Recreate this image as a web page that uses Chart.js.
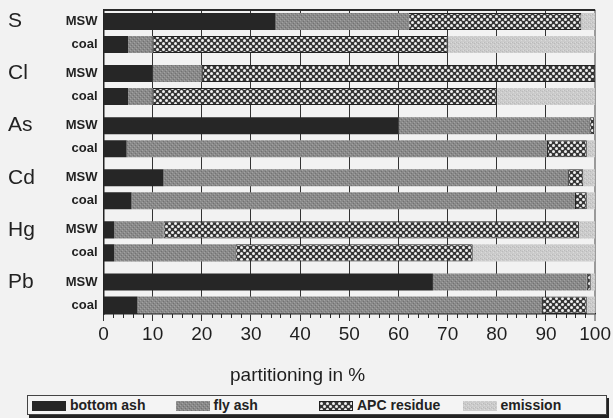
<!DOCTYPE html>
<html>
<head>
<meta charset="utf-8">
<script src="https://cdn.jsdelivr.net/npm/chart.js@4/dist/chart.umd.min.js"></script>
<style>
  body { margin: 0; background: #f2f2f2; }
  #wrap { position: relative; width: 613px; height: 418px; }
  #chart { position: absolute; left: 0; top: 0; }
  .xtitle { position: absolute; left: 230px; top: 364px; font: 19px "Liberation Sans", Arial, sans-serif; color: #1e1e1e; white-space: nowrap; }
  .legend { position: absolute; left: 27px; top: 395px; width: 578px; height: 18px;
            border: 1px solid #444; box-shadow: 2px 3px 0 #222; background: #f4f4f4;
            font: bold 14px "Liberation Sans", Arial, sans-serif; color: #222; }
  .legend .item { position: absolute; top: 0; height: 18px; line-height: 18px; white-space: nowrap; }
  .legend .box { display: inline-block; width: 34px; height: 10px; vertical-align: -1px; margin-right: 4px; }
</style>
</head>
<body>
<div id="wrap">
  <canvas id="chart" width="613" height="395"></canvas>
  <div class="xtitle" id="xtitle"></div>
  <div class="legend" id="legend"></div>
</div>
<script>
const elements = ['S', 'Cl', 'As', 'Cd', 'Hg', 'Pb'];
const fuels = ['MSW', 'coal'];
const series = ['bottom ash', 'fly ash', 'APC residue', 'emission'];
const xTicks = [0, 10, 20, 30, 40, 50, 60, 70, 80, 90, 100];
const xTitle = 'partitioning in %';

// partitioning in %, one entry per element
const msw_bottom   = [35, 10, 60, 12.2, 2.2, 67];
const msw_fly      = [27, 10, 38.8, 82.3, 10, 31.3];
const msw_apc      = [35.2, 80, 1, 3.1, 84.5, 0.8];
const msw_emission = [2.8, 0, 0.2, 2.4, 3.3, 0.9];
const coal_bottom   = [5, 5, 4.7, 5.7, 2.2, 6.9];
const coal_fly      = [5, 5, 85.5, 90.2, 24.6, 82.3];
const coal_apc      = [60, 70, 8.1, 2.4, 48.3, 9.1];
const coal_emission = [30, 20, 1.7, 1.7, 24.9, 1.7];

const values = {
  MSW: [msw_bottom, msw_fly, msw_apc, msw_emission],
  coal: [coal_bottom, coal_fly, coal_apc, coal_emission]
};

function tile(size, draw) {
  const c = document.createElement('canvas');
  c.width = size; c.height = size;
  draw(c.getContext('2d'));
  return c;
}
const tiles = [
  tile(4, g => { g.fillStyle = '#262626'; g.fillRect(0, 0, 4, 4); }),
  tile(4, g => {
    g.fillStyle = '#8a8a8a'; g.fillRect(0, 0, 4, 4);
    g.fillStyle = '#a2a2a2'; g.fillRect(0, 0, 1, 1); g.fillRect(2, 2, 1, 1);
    g.fillStyle = '#727272'; g.fillRect(1, 3, 1, 1); g.fillRect(3, 1, 1, 1);
  }),
  tile(6, g => {
    g.fillStyle = '#363636'; g.fillRect(0, 0, 6, 6);
    g.fillStyle = '#f0f0f0';
    g.beginPath(); g.arc(1.5, 1.5, 1.5, 0, Math.PI * 2); g.fill();
    g.beginPath(); g.arc(4.5, 4.5, 1.5, 0, Math.PI * 2); g.fill();
  }),
  tile(4, g => {
    g.fillStyle = '#cbcbcb'; g.fillRect(0, 0, 4, 4);
    g.fillStyle = '#dadada'; g.fillRect(1, 0, 1, 1); g.fillRect(3, 2, 1, 1);
    g.fillStyle = '#bababa'; g.fillRect(0, 2, 1, 1); g.fillRect(2, 3, 1, 1);
  })
];
const ctx = document.getElementById('chart').getContext('2d');
const fills = tiles.map(t => ctx.createPattern(t, 'repeat'));

const datasets = [];
fuels.forEach(fuel => {
  series.forEach((name, j) => {
    datasets.push({
      label: name,
      stack: fuel,
      data: values[fuel][j].map((v, i) => ({ x: v, y: i })),
      backgroundColor: fills[j],
      borderColor: '#222',
      borderWidth: j == 2 ? 1 : 0,
      borderSkipped: false,
      categoryPercentage: 0.883,
      barPercentage: 0.74
    });
  });
});

const font = '"Liberation Sans", Arial, sans-serif';
const yMin = -0.441, yMax = 5.394;

// no extra room for the first/last tick label, the plot box is fixed
function fitY(width) {
  return s => { s.width = width; s.paddingTop = 0; s.paddingBottom = 0; };
}

const framePlugin = {
  id: 'frame',
  afterDraw(chart) {
    const a = chart.chartArea, c = chart.ctx, x = chart.scales.x;
    c.save();
    c.strokeStyle = '#2a2a2a';
    c.lineWidth = 2;
    c.beginPath(); c.moveTo(a.left, a.top); c.lineTo(a.right, a.top); c.stroke();
    // minor ticks every 2 %
    c.lineWidth = 1;
    c.beginPath();
    for (let v = 2; v < 100; v += 2) {
      if (v % 10 == 0) continue;
      const px = Math.round(x.getPixelForValue(v)) + 0.5;
      c.moveTo(px, a.bottom); c.lineTo(px, a.bottom + 4);
    }
    c.stroke();
    c.restore();
  }
};

new Chart(ctx, {
  type: 'bar',
  data: { datasets: datasets },
  options: {
    indexAxis: 'y',
    responsive: false,
    animation: false,
    layout: { padding: { top: 10, right: 17.3, left: 8, bottom: 0 } },
    plugins: { legend: { display: false }, tooltip: { enabled: false } },
    scales: {
      x: {
        type: 'linear', min: 0, max: 100, stacked: true,
        afterBuildTicks: s => { s.ticks = xTicks.map(v => ({ value: v })); },
        afterFit: s => { s.height = 81; },
        ticks: { padding: 2, color: '#1e1e1e', font: { family: font, size: 19 } },
        grid: { color: c => (c.tick && c.tick.value == 100) ? '#9a9a9a' : '#333', lineWidth: c => (c.tick && c.tick.value == 100) ? 2 : 1, tickLength: 7 },
        border: { color: '#222', width: 1.5 }
      },
      y: {
        type: 'linear', reverse: true, offset: false, min: yMin, max: yMax, stacked: true, weight: 0,
        afterFit: fitY(43.5),
        grid: { display: false, drawTicks: false, offset: false },
        border: { display: true, color: '#222', width: 1.5 },
        ticks: {
          stepSize: 1, includeBounds: false, autoSkip: false, padding: 6, color: '#222',
          font: { family: font, size: 13, weight: 'bold', lineHeight: '23px' },
          callback: v => Number.isInteger(v) ? fuels : null
        }
      },
      y2: {
        type: 'linear', position: 'left', reverse: true, offset: false, min: yMin, max: yMax, weight: 1,
        afterFit: fitY(52),
        grid: { display: false, drawTicks: false, offset: false },
        border: { display: false },
        ticks: {
          stepSize: 1, includeBounds: false, autoSkip: false, crossAlign: 'far', labelOffset: -11.5,
          color: '#222', font: { family: font, size: 21 },
          callback: v => Number.isInteger(v) ? elements[v] : null
        }
      }
    }
  },
  plugins: [framePlugin]
});

// axis title sits left of centre in the original, so it is placed by hand
document.getElementById('xtitle').textContent = xTitle;

// legend below the chart, one slot per series
const legend = document.getElementById('legend');
series.forEach((name, j) => {
  const item = document.createElement('div');
  item.className = 'item';
  item.style.left = (4 + j * 143.5) + 'px';
  const box = document.createElement('span');
  box.className = 'box';
  box.style.backgroundImage = 'url(' + tiles[j].toDataURL() + ')';
  if (j == 2) { box.style.boxSizing = 'border-box'; box.style.border = '1px solid #222'; }
  item.appendChild(box);
  item.appendChild(document.createTextNode(name));
  legend.appendChild(item);
});
</script>
</body>
</html>
